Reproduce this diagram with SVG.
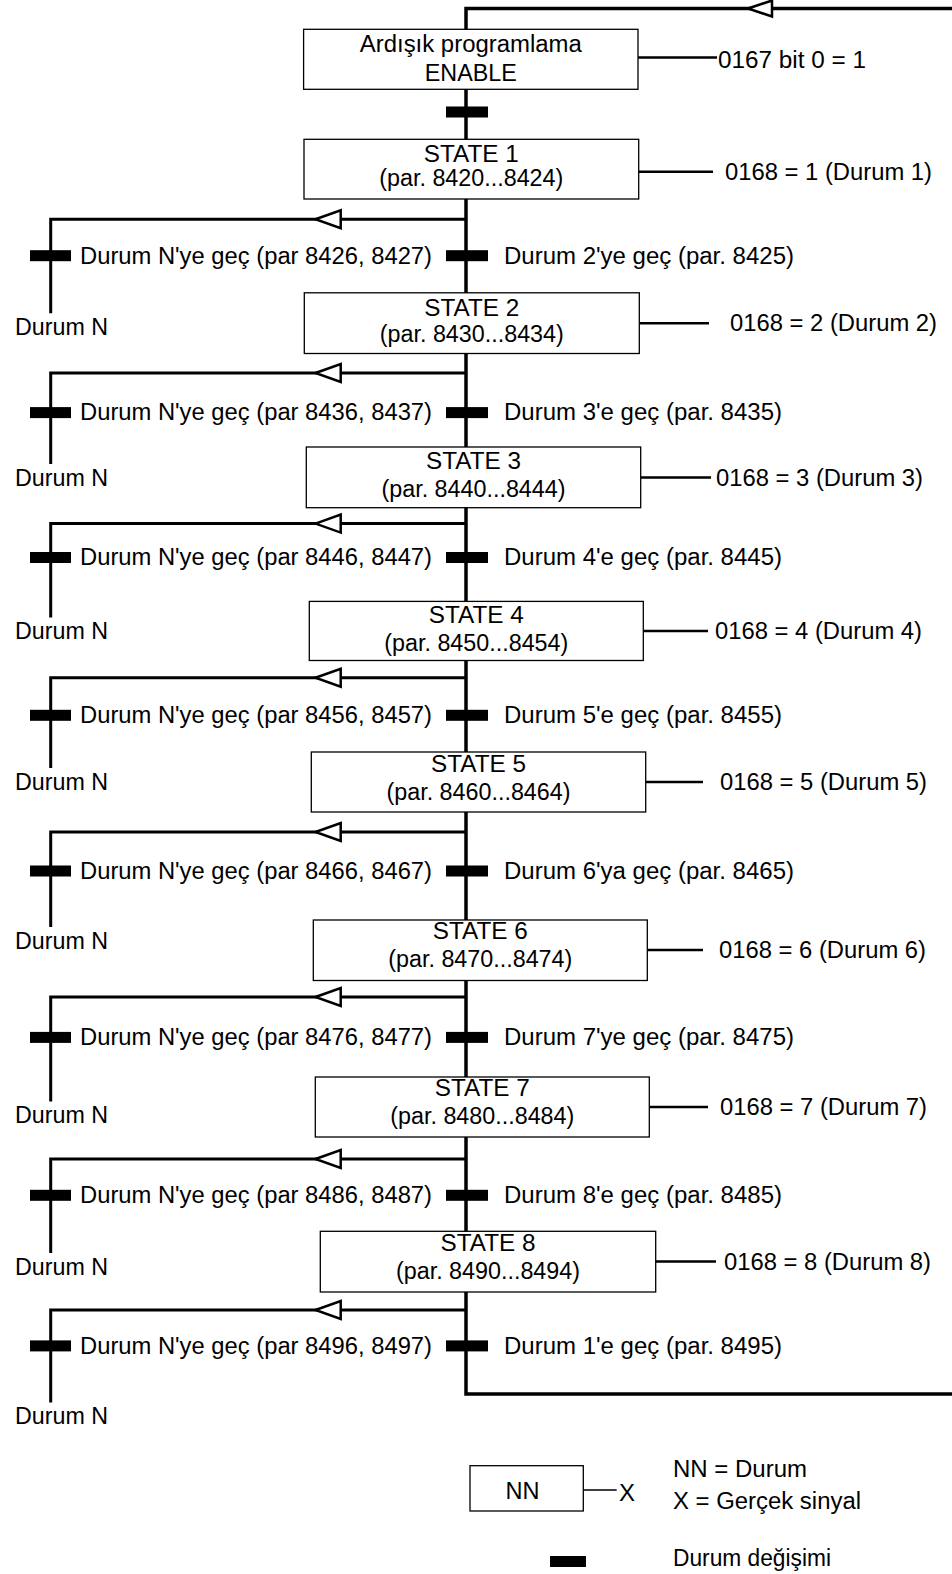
<svg xmlns="http://www.w3.org/2000/svg" width="952" height="1574" viewBox="0 0 952 1574">
<style>
text{font-family:"Liberation Sans",Arial,sans-serif;font-size:23px;fill:#000}
.c{text-anchor:middle}
.box{fill:#fff;stroke:#000;stroke-width:1.3}
.main{fill:none;stroke:#000;stroke-width:3.5}
.br{fill:none;stroke:#000;stroke-width:3}
.sig{fill:none;stroke:#000;stroke-width:2.5}
.thin{fill:none;stroke:#000;stroke-width:1.3}
.arr{fill:#fff;stroke:#000;stroke-width:2.5}
.bar{fill:#000}
</style>
<rect width="952" height="1574" fill="#fff"/>
<g id="connectors">
<path class="main" d="M466 1292 V1394 H954 V8.5 H466 V1292"/>
<polygon class="arr" points="748,8.5 772,0.5 772,16.5"/>
<path class="br" d="M466 219.3 H50.7 V313.3"/>
<path class="br" d="M466 373 H50.7 V464"/>
<path class="br" d="M466 523.6 H50.7 V617.5"/>
<path class="br" d="M466 677.8 H50.7 V768"/>
<path class="br" d="M466 832 H50.7 V927"/>
<path class="br" d="M466 997 H50.7 V1101.5"/>
<path class="br" d="M466 1159 H50.7 V1253"/>
<path class="br" d="M466 1310 H50.7 V1402.6"/>
<polygon class="arr" points="315.5,219.3 340.7,210.3 340.7,228.3"/>
<polygon class="arr" points="315.5,373 340.7,364 340.7,382"/>
<polygon class="arr" points="315.5,523.6 340.7,514.6 340.7,532.6"/>
<polygon class="arr" points="315.5,677.8 340.7,668.8 340.7,686.8"/>
<polygon class="arr" points="315.5,832 340.7,823 340.7,841"/>
<polygon class="arr" points="315.5,997 340.7,988 340.7,1006"/>
<polygon class="arr" points="315.5,1159 340.7,1150 340.7,1168"/>
<polygon class="arr" points="315.5,1310 340.7,1301 340.7,1319"/>
<path class="sig" d="M638 57.5 H717"/>
<path class="sig" d="M638.7 171.7 H713"/>
<path class="sig" d="M639.3 323.3 H709"/>
<path class="sig" d="M640.7 477.4 H711"/>
<path class="sig" d="M643.3 631 H708"/>
<path class="sig" d="M645.7 782 H703"/>
<path class="sig" d="M647.3 950 H703"/>
<path class="sig" d="M649.3 1107 H708"/>
<path class="sig" d="M655.7 1261.5 H716"/>
</g>
<g id="transitions">
<rect class="bar" x="446" y="106.5" width="42" height="11"/>
<rect class="bar" x="446" y="250.2" width="42" height="11"/>
<rect class="bar" x="446" y="407.1" width="42" height="11"/>
<rect class="bar" x="446" y="552" width="42" height="11"/>
<rect class="bar" x="446" y="709.8" width="42" height="11"/>
<rect class="bar" x="446" y="865.5" width="42" height="11"/>
<rect class="bar" x="446" y="1031.9" width="42" height="11"/>
<rect class="bar" x="446" y="1189.8" width="42" height="11"/>
<rect class="bar" x="446" y="1340.4" width="42" height="11"/>
<rect class="bar" x="30" y="250.2" width="41" height="11"/>
<rect class="bar" x="30" y="407.1" width="41" height="11"/>
<rect class="bar" x="30" y="552" width="41" height="11"/>
<rect class="bar" x="30" y="709.8" width="41" height="11"/>
<rect class="bar" x="30" y="865.5" width="41" height="11"/>
<rect class="bar" x="30" y="1031.9" width="41" height="11"/>
<rect class="bar" x="30" y="1189.8" width="41" height="11"/>
<rect class="bar" x="30" y="1340.4" width="41" height="11"/>
<text x="80" y="263.5" textLength="352" lengthAdjust="spacingAndGlyphs">Durum N'ye geç (par 8426, 8427)</text>
<text x="80" y="420.4" textLength="352" lengthAdjust="spacingAndGlyphs">Durum N'ye geç (par 8436, 8437)</text>
<text x="80" y="565.3" textLength="352" lengthAdjust="spacingAndGlyphs">Durum N'ye geç (par 8446, 8447)</text>
<text x="80" y="723.1" textLength="352" lengthAdjust="spacingAndGlyphs">Durum N'ye geç (par 8456, 8457)</text>
<text x="80" y="878.8" textLength="352" lengthAdjust="spacingAndGlyphs">Durum N'ye geç (par 8466, 8467)</text>
<text x="80" y="1045.2" textLength="352" lengthAdjust="spacingAndGlyphs">Durum N'ye geç (par 8476, 8477)</text>
<text x="80" y="1203.1" textLength="352" lengthAdjust="spacingAndGlyphs">Durum N'ye geç (par 8486, 8487)</text>
<text x="80" y="1353.7" textLength="352" lengthAdjust="spacingAndGlyphs">Durum N'ye geç (par 8496, 8497)</text>
<text x="504" y="263.5" textLength="290" lengthAdjust="spacingAndGlyphs">Durum 2'ye geç (par. 8425)</text>
<text x="504" y="420.4" textLength="278" lengthAdjust="spacingAndGlyphs">Durum 3'e geç (par. 8435)</text>
<text x="504" y="565.3" textLength="278" lengthAdjust="spacingAndGlyphs">Durum 4'e geç (par. 8445)</text>
<text x="504" y="723.1" textLength="278" lengthAdjust="spacingAndGlyphs">Durum 5'e geç (par. 8455)</text>
<text x="504" y="878.8" textLength="290" lengthAdjust="spacingAndGlyphs">Durum 6'ya geç (par. 8465)</text>
<text x="504" y="1045.2" textLength="290" lengthAdjust="spacingAndGlyphs">Durum 7'ye geç (par. 8475)</text>
<text x="504" y="1203.1" textLength="278" lengthAdjust="spacingAndGlyphs">Durum 8'e geç (par. 8485)</text>
<text x="504" y="1353.7" textLength="278" lengthAdjust="spacingAndGlyphs">Durum 1'e geç (par. 8495)</text>
<text x="15" y="335" textLength="93" lengthAdjust="spacingAndGlyphs">Durum N</text>
<text x="15" y="485.5" textLength="93" lengthAdjust="spacingAndGlyphs">Durum N</text>
<text x="15" y="639" textLength="93" lengthAdjust="spacingAndGlyphs">Durum N</text>
<text x="15" y="789.5" textLength="93" lengthAdjust="spacingAndGlyphs">Durum N</text>
<text x="15" y="948.5" textLength="93" lengthAdjust="spacingAndGlyphs">Durum N</text>
<text x="15" y="1123" textLength="93" lengthAdjust="spacingAndGlyphs">Durum N</text>
<text x="15" y="1274.5" textLength="93" lengthAdjust="spacingAndGlyphs">Durum N</text>
<text x="15" y="1424" textLength="93" lengthAdjust="spacingAndGlyphs">Durum N</text>
</g>
<g id="enable">
<rect class="box" x="303.6" y="29.3" width="334.4" height="60"/>
<text class="c" x="470.8" y="52" textLength="222" lengthAdjust="spacingAndGlyphs">Ardışık programlama</text>
<text class="c" x="470.8" y="80.5" textLength="92" lengthAdjust="spacingAndGlyphs">ENABLE</text>
<text x="718" y="67.5" textLength="148" lengthAdjust="spacingAndGlyphs">0167 bit 0 = 1</text>
</g>
<g id="state1">
<rect class="box" x="304" y="139.3" width="334.7" height="59.7"/>
<text class="c" x="471.3" y="161.5" textLength="95" lengthAdjust="spacingAndGlyphs">STATE 1</text>
<text class="c" x="471.3" y="186" textLength="184" lengthAdjust="spacingAndGlyphs">(par. 8420...8424)</text>
<text x="725" y="179.5" textLength="207" lengthAdjust="spacingAndGlyphs">0168 = 1 (Durum 1)</text>
</g>
<g id="state2">
<rect class="box" x="304.3" y="292.8" width="335" height="60.7"/>
<text class="c" x="471.8" y="316" textLength="95" lengthAdjust="spacingAndGlyphs">STATE 2</text>
<text class="c" x="471.8" y="342" textLength="184" lengthAdjust="spacingAndGlyphs">(par. 8430...8434)</text>
<text x="730" y="331" textLength="207" lengthAdjust="spacingAndGlyphs">0168 = 2 (Durum 2)</text>
</g>
<g id="state3">
<rect class="box" x="306.3" y="447" width="334.4" height="60.7"/>
<text class="c" x="473.5" y="469" textLength="95" lengthAdjust="spacingAndGlyphs">STATE 3</text>
<text class="c" x="473.5" y="497" textLength="184" lengthAdjust="spacingAndGlyphs">(par. 8440...8444)</text>
<text x="716" y="485.5" textLength="207" lengthAdjust="spacingAndGlyphs">0168 = 3 (Durum 3)</text>
</g>
<g id="state4">
<rect class="box" x="309.3" y="601.4" width="334" height="59.1"/>
<text class="c" x="476.3" y="623" textLength="95" lengthAdjust="spacingAndGlyphs">STATE 4</text>
<text class="c" x="476.3" y="650.5" textLength="184" lengthAdjust="spacingAndGlyphs">(par. 8450...8454)</text>
<text x="715" y="639" textLength="207" lengthAdjust="spacingAndGlyphs">0168 = 4 (Durum 4)</text>
</g>
<g id="state5">
<rect class="box" x="311.3" y="752" width="334.4" height="60"/>
<text class="c" x="478.5" y="772" textLength="95" lengthAdjust="spacingAndGlyphs">STATE 5</text>
<text class="c" x="478.5" y="800" textLength="184" lengthAdjust="spacingAndGlyphs">(par. 8460...8464)</text>
<text x="720" y="790" textLength="207" lengthAdjust="spacingAndGlyphs">0168 = 5 (Durum 5)</text>
</g>
<g id="state6">
<rect class="box" x="313.3" y="920" width="334" height="60.5"/>
<text class="c" x="480.3" y="939" textLength="95" lengthAdjust="spacingAndGlyphs">STATE 6</text>
<text class="c" x="480.3" y="967" textLength="184" lengthAdjust="spacingAndGlyphs">(par. 8470...8474)</text>
<text x="719" y="958" textLength="207" lengthAdjust="spacingAndGlyphs">0168 = 6 (Durum 6)</text>
</g>
<g id="state7">
<rect class="box" x="315.3" y="1077" width="334" height="60"/>
<text class="c" x="482.3" y="1096" textLength="95" lengthAdjust="spacingAndGlyphs">STATE 7</text>
<text class="c" x="482.3" y="1124" textLength="184" lengthAdjust="spacingAndGlyphs">(par. 8480...8484)</text>
<text x="720" y="1115" textLength="207" lengthAdjust="spacingAndGlyphs">0168 = 7 (Durum 7)</text>
</g>
<g id="state8">
<rect class="box" x="320.3" y="1231.3" width="335.4" height="60.7"/>
<text class="c" x="488" y="1251" textLength="95" lengthAdjust="spacingAndGlyphs">STATE 8</text>
<text class="c" x="488" y="1279" textLength="184" lengthAdjust="spacingAndGlyphs">(par. 8490...8494)</text>
<text x="724" y="1269.5" textLength="207" lengthAdjust="spacingAndGlyphs">0168 = 8 (Durum 8)</text>
</g>
<g id="legend">
<rect class="box" x="470" y="1465.7" width="113.3" height="45.3"/>
<text class="c" x="522.5" y="1498.5" textLength="34" lengthAdjust="spacingAndGlyphs">NN</text>
<path class="thin" d="M583.3 1490 H616.7"/>
<text x="619" y="1500.5" textLength="16" lengthAdjust="spacingAndGlyphs">X</text>
<text x="673" y="1477" textLength="134" lengthAdjust="spacingAndGlyphs">NN = Durum</text>
<text x="673" y="1509" textLength="188" lengthAdjust="spacingAndGlyphs">X = Gerçek sinyal</text>
<rect class="bar" x="550" y="1556" width="36" height="11"/>
<text x="673" y="1566" textLength="158" lengthAdjust="spacingAndGlyphs">Durum değişimi</text>
</g>
</svg>
